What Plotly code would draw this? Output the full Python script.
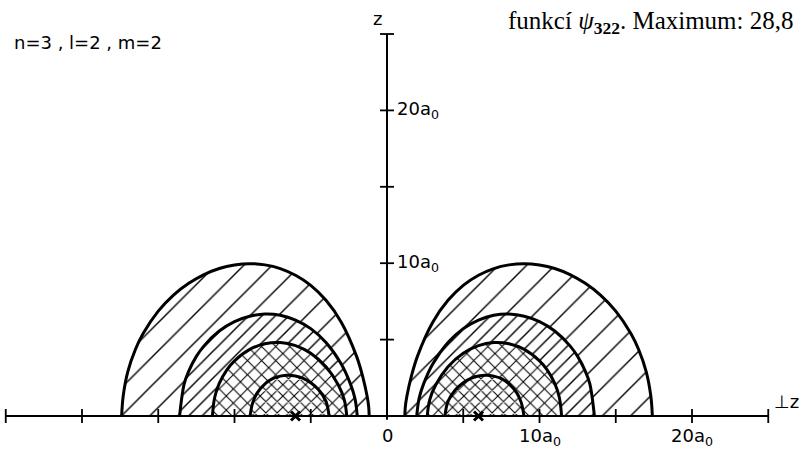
import plotly.graph_objects as go

# ---- data (units of a0); right lobe, horizontal = distance from z axis
c1_x = [1.17, 1.2, 1.3, 1.6, 2, 3, 4, 5, 6, 7, 8, 9, 10, 11, 12, 13, 14, 15, 16, 16.5, 17, 17.3, 17.4]
c1_z = [0, 0.59, 1.27, 2.61, 3.92, 6.14, 7.57, 8.55, 9.21, 9.65, 9.89, 9.97, 9.88, 9.65, 9.25, 8.68, 7.91, 6.86, 5.38, 4.35, 2.89, 1.30, 0]

c2_x = [1.95, 2.1, 2.4, 3, 4, 5, 6, 7, 8, 9, 10, 11, 12, 12.5, 13, 13.3, 13.6]
c2_z = [0, 1.14, 2.10, 3.40, 4.81, 5.72, 6.28, 6.59, 6.67, 6.53, 6.18, 5.56, 4.59, 3.90, 2.94, 2.10, 0]

c3_x = [2.64, 2.8, 3.2, 4, 5, 6, 7, 8, 9, 10, 10.5, 11, 11.3, 11.45]
c3_z = [0, 1.06, 2.04, 3.22, 4.11, 4.61, 4.81, 4.73, 4.36, 3.61, 3.02, 2.13, 1.21, 0]

c4_x = [3.8, 4, 4.5, 5, 5.5, 6, 6.5, 7, 7.5, 8, 8.5, 8.8, 8.98]
c4_z = [0, 0.96, 1.73, 2.18, 2.46, 2.62, 2.67, 2.61, 2.44, 2.11, 1.53, 0.89, 0]

maxima_x = [-6, 6]
maxima_z = [0, 0]

x_ticks = [-25, -20, -15, -10, -5, 5, 10, 15, 20, 25]
z_ticks = [5, 10, 15, 20, 25]
x_tick_labels = {0: "0", 10: "10a<sub>0</sub>", 20: "20a<sub>0</sub>"}
z_tick_labels = {10: "10a<sub>0</sub>", 20: "20a<sub>0</sub>"}

contours = [(c1_x, c1_z), (c2_x, c2_z), (c3_x, c3_z), (c4_x, c4_z)]
patterns = [dict(shape="/", size=20, solidity=0.07),
            dict(shape="/", size=9.5, solidity=0.15),
            dict(shape="x", size=10, solidity=0.2),
            dict(shape="x", size=8, solidity=0.25)]

fig = go.Figure()

# fills (outer to inner, each covers the previous)
for (cx, cz), pat in zip(contours, patterns):
    for sgn in (1, -1):
        xs = [sgn * v for v in cx]
        fig.add_trace(go.Scatter(
            x=xs, y=cz, mode="lines", line=dict(width=0, shape="spline", color="white"),
            fill="toself", fillcolor="white",
            fillpattern=dict(shape=pat["shape"], size=pat["size"], solidity=pat["solidity"],
                             fgcolor="black", bgcolor="white", fillmode="replace"),
            hoverinfo="skip", showlegend=False))

# contour outlines
for cx, cz in contours:
    for sgn in (1, -1):
        fig.add_trace(go.Scatter(
            x=[sgn * v for v in cx], y=cz, mode="lines",
            line=dict(width=3, shape="spline", color="black"),
            hoverinfo="skip", showlegend=False))

# axes
fig.add_trace(go.Scatter(x=[-25, 25], y=[0, 0], mode="lines",
                         line=dict(width=2, color="black"), showlegend=False, hoverinfo="skip"))
fig.add_trace(go.Scatter(x=[0, 0], y=[-0.25, 25], mode="lines",
                         line=dict(width=2, color="black"), showlegend=False, hoverinfo="skip"))
fig.add_trace(go.Scatter(x=x_ticks, y=[0] * len(x_ticks), mode="markers",
                         marker=dict(symbol="line-ns", size=10, line=dict(width=1.8, color="black")),
                         showlegend=False, hoverinfo="skip"))
fig.add_trace(go.Scatter(x=[0] * len(z_ticks), y=z_ticks, mode="markers",
                         marker=dict(symbol="line-ew", size=10, line=dict(width=1.8, color="black")),
                         showlegend=False, hoverinfo="skip"))

# maxima
fig.add_trace(go.Scatter(x=maxima_x, y=maxima_z, mode="markers",
                         marker=dict(symbol="x-thin", size=9, line=dict(width=3, color="black")),
                         showlegend=False, hoverinfo="skip"))

lab_font = dict(family="DejaVu Sans", size=18, color="black")
ann = []
for v, t in x_tick_labels.items():
    ann.append(dict(x=v, y=-0.45, xref="x", yref="y", text=t, showarrow=False,
                    xanchor="center", yanchor="top", font=lab_font))
for v, t in z_tick_labels.items():
    ann.append(dict(x=0.5, y=v, xref="x", yref="y", text=t, showarrow=False,
                    xanchor="left", yanchor="middle", font=lab_font))
ann.append(dict(x=-0.6, y=26.0, xref="x", yref="y", text="z", showarrow=False,
                xanchor="center", yanchor="middle", font=lab_font))
ann.append(dict(x=801 / 802, y=1 - 401 / 449, xref="paper", yref="paper", text="\u22a5z",
                showarrow=False, xanchor="right", yanchor="middle", font=lab_font))
ann.append(dict(x=12 / 802, y=1 - 43 / 449, xref="paper", yref="paper",
                text="n=3 , l=2 , m=2", showarrow=False, xanchor="left", yanchor="middle",
                font=lab_font))
ann.append(dict(x=506 / 802, y=1 - 22 / 449, xref="paper", yref="paper",
                text="funkcí <i>ψ</i><sub><b>322</b></sub>. Maximum: 28,8",
                showarrow=False, xanchor="left", yanchor="middle",
                font=dict(family="Liberation Serif", size=25, color="black")))

fig.update_layout(
    width=802, height=449, margin=dict(l=0, r=0, t=0, b=0),
    paper_bgcolor="white", plot_bgcolor="white",
    xaxis=dict(range=[-387 / 15.25, 415 / 15.25], visible=False, fixedrange=True),
    yaxis=dict(range=[-33 / 15.28, 416 / 15.28], visible=False, fixedrange=True),
    annotations=ann,
)

fig.write_html("out.html")
